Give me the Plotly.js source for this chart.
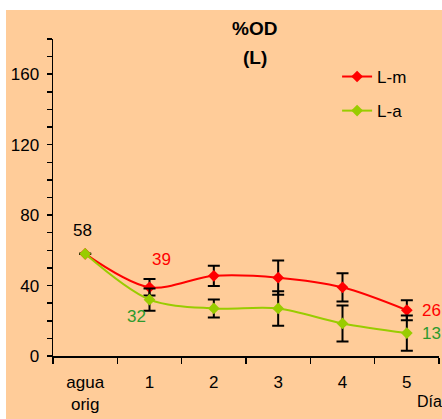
<!DOCTYPE html>
<html>
<head>
<meta charset="utf-8">
<script src="https://cdn.plot.ly/plotly-3.0.1.min.js"></script>
<style>
  html, body { margin: 0; padding: 0; background: #ffffff; }
  #chart { position: absolute; left: 6px; top: 10px; width: 436px; height: 409px; }
</style>
</head>
<body>
<div id="chart"></div>
<script>
// ---- data ----
const categories = ["agua<br>orig", "1", "2", "3", "4", "5"];
const seriesNames = ["L-m", "L-a"];
const valuesLm = [58, 39, 45.5, 44.5, 39, 26];
const valuesLa = [58, 32, 27, 27, 18.5, 13];
const errorsLm = [0, 4.7, 5.7, 9.7, 8, 5.7];
const errorsLa = [0, 6.3, 5.1, 9.8, 10.2, 10];
const yTickValues = [0, 40, 80, 120, 160];
const titleLines = ["%OD", "(L)"];
const xAxisLabel = "Día";

const FONT = "Arial, 'Liberation Sans', sans-serif";
const xIdx = categories.map((_, i) => i);

function trace(name, ys, errs, color, group) {
  return {
    type: "scatter", mode: "lines+markers", name: name,
    legendgroup: group,
    x: xIdx, y: ys,
    line: { color: color, width: 2, shape: "spline", smoothing: 0.9 },
    marker: { symbol: "diamond", size: 9, color: color },
    error_y: { type: "data", array: errs, visible: true, color: "#000000", thickness: 2, width: 6 },
    cliponaxis: false
  };
}

const data = [
  trace(seriesNames[0], valuesLm, errorsLm, "#FF0000", "g1"),
  trace(seriesNames[1], valuesLa, errorsLa, "#99CC00", "g2")
];

const ann = [];
ann.push({ xref: "paper", yref: "paper", x: 0.5225, y: 1.032, text: "<b>" + titleLines[0] + "</b>",
  showarrow: false, xanchor: "center", yanchor: "middle", font: { family: FONT, size: 19, color: "#000" } });
ann.push({ xref: "paper", yref: "paper", x: 0.5225, y: 0.9416, text: "<b>" + titleLines[1] + "</b>",
  showarrow: false, xanchor: "center", yanchor: "middle", font: { family: FONT, size: 19, color: "#000" } });
ann.push({ xref: "paper", yref: "paper", x: 0.975, y: -0.145, text: xAxisLabel,
  showarrow: false, xanchor: "center", yanchor: "middle", font: { family: FONT, size: 16, color: "#000" } });

function lbl(i, v, color, xs, ys) {
  ann.push({ xref: "x", yref: "y", x: i, y: v, text: String(Math.round(v)), showarrow: false,
    xanchor: "center", yanchor: "middle", xshift: xs, yshift: ys,
    font: { family: FONT, size: 17, color: color } });
}
lbl(0, valuesLm[0], "#000000", -3, 23);
lbl(1, valuesLm[1], "#FF0000", 12, 28);
lbl(1, valuesLa[1], "#2E9A2E", -13, -17);
lbl(5, valuesLm[5], "#FF0000", 25, 0);
lbl(5, valuesLa[5], "#2E9A2E", 25, 0);

const layout = {
  width: 436, height: 409,
  margin: { l: 47, r: 3, t: 29, b: 63 },
  paper_bgcolor: "#FFCC99",
  plot_bgcolor: "#FFCC99",
  font: { family: FONT, size: 17, color: "#000" },
  showlegend: true,
  legend: {
    x: 0.736, y: 0.937, xanchor: "left", yanchor: "top",
    bgcolor: "rgba(0,0,0,0)", font: { family: FONT, size: 17, color: "#000" },
    traceorder: "grouped", tracegroupgap: 9
  },
  xaxis: {
    type: "linear", range: [-0.5, 5.5],
    tickmode: "array", tickvals: xIdx, ticktext: categories,
    showline: true, linecolor: "#000", linewidth: 1.5,
    showgrid: false, zeroline: false,
    ticks: "", ticklabelstandoff: 10,
    minor: { tickmode: "array", tickvals: [-0.5, 0.5, 1.5, 2.5, 3.5, 4.5, 5.5], ticks: "outside", ticklen: 6, tickcolor: "#000", tickwidth: 1.5, showgrid: false },
    tickfont: { family: FONT, size: 17, color: "#000" },
    fixedrange: true
  },
  yaxis: {
    range: [0, 180],
    tickmode: "array", tickvals: yTickValues,
    showline: true, linecolor: "#000", linewidth: 1.5,
    showgrid: false, zeroline: false,
    ticks: "outside", ticklen: 5, tickcolor: "#000", tickwidth: 1.5,
    ticklabelstandoff: 4,
    minor: { dtick: 10, ticks: "outside", ticklen: 5, tickcolor: "#000", tickwidth: 1.5, showgrid: false },
    tickfont: { family: FONT, size: 17, color: "#000" },
    fixedrange: true
  },
  annotations: ann
};

Plotly.newPlot("chart", data, layout, { displayModeBar: false, staticPlot: true });
</script>
</body>
</html>
